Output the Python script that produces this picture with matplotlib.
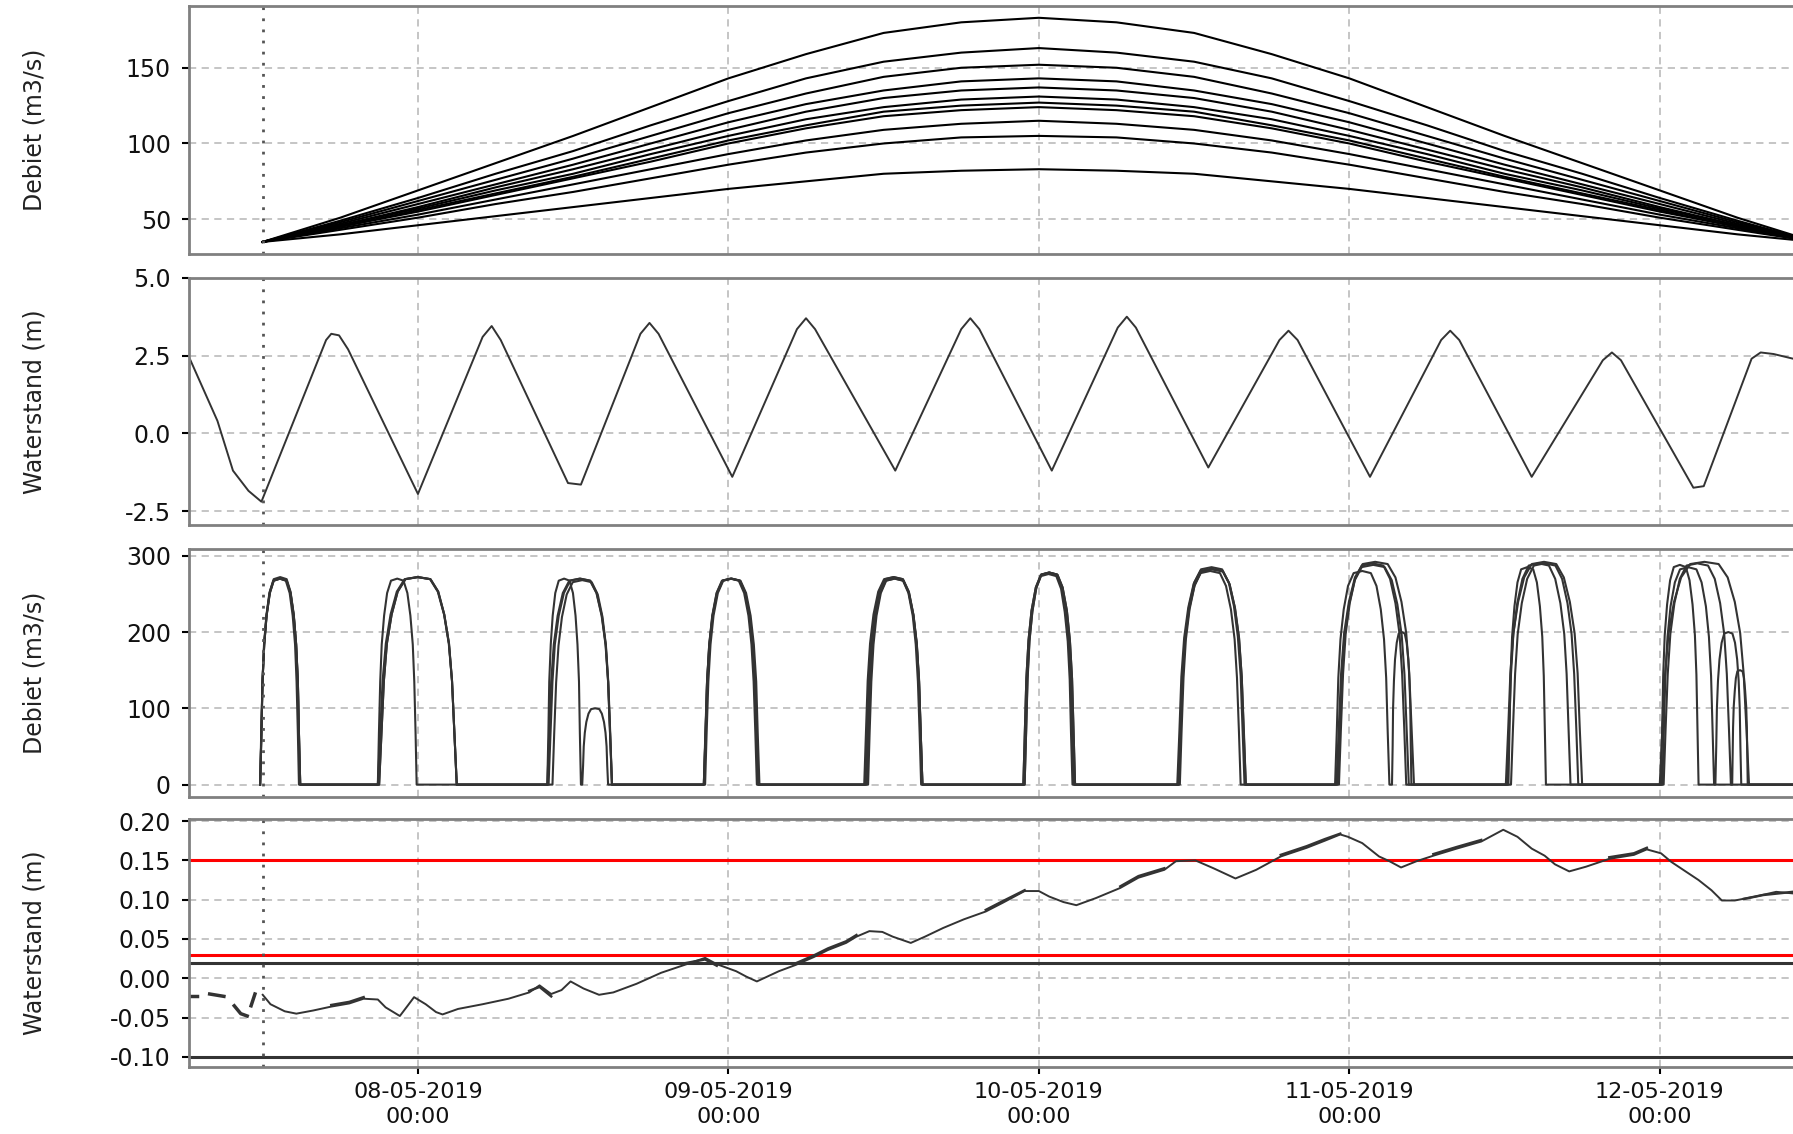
import numpy as np
import matplotlib
matplotlib.use('Agg')
import matplotlib.pyplot as plt
import matplotlib.dates as mdates
from matplotlib.ticker import FormatStrFormatter

plt.rcParams['axes.unicode_minus'] = False
plt.rcParams['font.family'] = 'DejaVu Sans'

# all times in hours after 07-05-2019 00:00
T0 = np.datetime64('2019-05-07T00:00')
NOW_H = 12.0
XLIM_H = (6.3, 130.3)

# --- panel 1: debiet ensemble (m3/s), one row per member, 6-hourly
q_hours = [12, 18, 24, 30, 36, 42, 48, 54, 60, 66, 72,
           78, 84, 90, 96, 102, 108, 114, 120, 126, 132]
q_members = [
    [35, 51, 69, 87, 105, 124, 143, 159, 173, 180, 183, 180, 173, 159, 143, 124, 105, 87, 69, 51, 35],
    [35, 49, 64, 80, 95, 112, 128, 143, 154, 160, 163, 160, 154, 143, 128, 112, 95, 80, 64, 49, 35],
    [35, 48, 62, 76, 90, 105, 120, 133, 144, 150, 152, 150, 144, 133, 120, 105, 90, 76, 62, 48, 35],
    [35, 47, 60, 73, 86, 100, 114, 126, 135, 141, 143, 141, 135, 126, 114, 100, 86, 73, 60, 47, 35],
    [35, 46, 58, 71, 83, 96, 109, 121, 130, 135, 137, 135, 130, 121, 109, 96, 83, 71, 58, 46, 35],
    [35, 46, 57, 69, 80, 93, 105, 116, 124, 129, 131, 129, 124, 116, 105, 93, 80, 69, 57, 46, 35],
    [35, 45, 56, 67, 78, 90, 102, 112, 121, 125, 127, 125, 121, 112, 102, 90, 78, 67, 56, 45, 35],
    [35, 45, 55, 66, 77, 88, 100, 110, 118, 122, 124, 122, 118, 110, 100, 88, 77, 66, 55, 45, 35],
    [35, 44, 53, 63, 73, 83, 93, 102, 109, 113, 115, 113, 109, 102, 93, 83, 73, 63, 53, 44, 35],
    [35, 43, 51, 60, 68, 77, 86, 94, 100, 104, 105, 104, 100, 94, 86, 77, 68, 60, 51, 43, 35],
    [35, 40, 46, 52, 58, 64, 70, 75, 80, 82, 83, 82, 80, 75, 70, 64, 58, 52, 46, 40, 35],
]

# --- panel 2: waterstand buitenwater (m)
tide_hours = [6.2, 8.5, 9.7, 10.9, 11.9,
              16.9, 17.3, 17.9, 18.6,
              24.0,
              29.0, 29.7, 30.4,
              35.6, 36.6,
              41.2, 41.9, 42.6,
              48.3,
              53.3, 54.0, 54.7,
              60.9,
              66.0, 66.7, 67.4,
              73.0,
              78.1, 78.8, 79.5,
              85.1,
              90.6, 91.3, 92.0,
              97.6,
              103.1, 103.8, 104.5,
              110.1,
              115.6, 116.3, 117.0,
              122.6, 123.4,
              127.1, 127.8, 128.8, 130.3]
tide_level = [2.55, 0.4, -1.2, -1.85, -2.2,
              3.0, 3.2, 3.15, 2.7,
              -1.95,
              3.1, 3.45, 3.0,
              -1.6, -1.65,
              3.2, 3.55, 3.2,
              -1.4,
              3.35, 3.7, 3.35,
              -1.2,
              3.35, 3.7, 3.35,
              -1.2,
              3.4, 3.75, 3.4,
              -1.1,
              3.0, 3.3, 3.0,
              -1.4,
              3.0, 3.3, 3.0,
              -1.4,
              2.35, 2.6, 2.35,
              -1.75, -1.7,
              2.4, 2.6, 2.55, 2.4]

# --- panel 3: spuidebiet per member, one (start h, end h, peak) per spui-event
hump_shape_t = [0, 0.03, 0.06, 0.10, 0.16, 0.24, 0.34, 0.5, 0.66, 0.76, 0.84, 0.90, 0.94, 0.97, 1.0]
hump_shape_q = [0, 0.25, 0.5, 0.68, 0.82, 0.93, 0.99, 1.0, 0.99, 0.93, 0.82, 0.68, 0.5, 0.25, 0]
spui_members = [
    [(11.8, 14.9, 272), (20.9, 27.0, 272), (34.0, 39.0, 270), (46.1, 50.4, 270),
     (58.6, 63.0, 272), (70.8, 74.8, 278), (82.7, 88.0, 283), (95.0, 101.0, 292),
     (108.1, 114.0, 292), (120.0, 126.9, 292)],
    [(11.8, 14.8, 270), (20.9, 23.9, 270), (34.0, 36.6, 270), (36.7, 38.7, 100),
     (46.1, 50.2, 270), (58.8, 62.9, 270), (70.9, 74.6, 276), (82.9, 87.6, 280),
     (94.9, 99.1, 280), (99.3, 100.8, 200), (108.3, 111.2, 285), (120.1, 123.0, 288)],
    [(11.8, 14.9, 270), (21.0, 27.0, 272), (34.4, 39.0, 268), (46.2, 50.3, 270),
     (58.5, 63.0, 272), (70.8, 74.8, 278), (82.8, 87.9, 285), (95.1, 100.6, 288),
     (108.2, 113.1, 290), (120.2, 124.2, 285), (124.3, 126.3, 200)],
    [(11.8, 14.9, 270), (21.0, 27.0, 272), (34.1, 39.0, 270), (46.1, 50.3, 270),
     (58.7, 63.0, 270), (70.9, 74.7, 278), (82.8, 88.0, 282), (95.2, 100.4, 290),
     (108.5, 113.7, 290), (120.3, 125.5, 290), (125.6, 126.8, 150)],
]

# --- panel 4: waterstand binnenwater (m)
obs_segments_h = [[6.3, 6.9], [7.9, 9.0], [9.8, 10.3, 10.8], [11.1, 11.4]]
obs_segments_v = [[-0.022, -0.022], [-0.020, -0.023], [-0.035, -0.045, -0.048], [-0.035, -0.020]]

wl_hours = [12.0, 12.6, 13.7, 14.6, 15.9, 17.3, 18.7, 19.8, 20.9, 21.5, 22.6, 23.2,
            23.7, 24.6, 25.4, 25.9, 27.1, 29.0, 31.0, 32.6, 33.4, 34.3, 35.1, 35.8,
            36.8, 38.0, 39.1, 40.9, 42.8, 44.6, 46.2, 47.1, 48.6, 49.4, 50.2, 51.9,
            53.2, 54.6, 55.7, 57.1, 57.9, 58.9, 59.9, 60.7, 62.1, 63.2, 64.6, 66.2,
            67.9, 69.2, 70.9, 72.0, 72.8, 73.9, 74.9, 76.4, 78.3, 79.7, 81.7, 82.6,
            84.1, 85.5, 87.2, 88.8, 90.7, 92.7, 94.1, 95.3, 95.9, 97.0, 98.3, 99.1,
            100.0, 101.2, 102.5, 104.3, 106.2, 107.9, 109.0, 110.1, 111.1, 111.9, 113.0,
            114.3, 116.1, 118.0, 119.0, 120.1, 120.9, 123.0, 124.0, 124.8, 125.8, 127.4,
            129.0, 130.3]
wl_level = [-0.021, -0.033, -0.042, -0.045, -0.041, -0.036, -0.032, -0.026, -0.027, -0.037, -0.048, -0.035,
            -0.024, -0.033, -0.043, -0.046, -0.039, -0.033, -0.026, -0.018, -0.009, -0.020, -0.015, -0.004,
            -0.013, -0.021, -0.018, -0.007, 0.007, 0.017, 0.026, 0.018, 0.009, 0.002, -0.004, 0.009,
            0.017, 0.027, 0.036, 0.045, 0.053, 0.060, 0.059, 0.053, 0.045, 0.053, 0.064, 0.075,
            0.085, 0.096, 0.111, 0.111, 0.104, 0.097, 0.093, 0.102, 0.115, 0.128, 0.138, 0.149,
            0.150, 0.140, 0.127, 0.138, 0.155, 0.166, 0.175, 0.183, 0.180, 0.172, 0.155, 0.149,
            0.141, 0.149, 0.156, 0.165, 0.174, 0.189, 0.180, 0.165, 0.156, 0.145, 0.136,
            0.142, 0.152, 0.157, 0.164, 0.159, 0.148, 0.125, 0.112, 0.099, 0.099, 0.104,
            0.110, 0.108]
# other ensemble members, only where they split off from the main line
wl_spread_h = [[17.3, 18.7, 19.8], [32.6, 33.4, 34.3], [44.6, 46.2, 47.1],
               [53.2, 54.6, 55.7, 57.1, 57.9], [67.9, 69.2, 70.9], [78.3, 79.7, 81.7],
               [90.7, 92.7, 94.1, 95.3], [102.5, 104.3, 106.2], [116.1, 118.0, 119.0],
               [126.5, 128.0, 130.3]]
wl_spread_v = [[-0.034, -0.030, -0.024], [-0.016, -0.011, -0.023], [0.019, 0.024, 0.016],
               [0.019, 0.029, 0.038, 0.047, 0.055], [0.087, 0.098, 0.112], [0.117, 0.130, 0.140],
               [0.157, 0.168, 0.177, 0.184], [0.158, 0.167, 0.176], [0.154, 0.159, 0.166],
               [0.101, 0.106, 0.110]]
red_levels = [0.15, 0.03]
black_levels = [0.02, -0.10]


def to_time(hours):
    return T0 + (np.asarray(hours, dtype=float) * 60).round().astype('int64').astype('timedelta64[m]')


fig = plt.figure(figsize=(17.93, 11.34), dpi=100)
left, width = 0.1054, 0.8946
ax1 = fig.add_axes([left, 0.776, width, 0.219])
ax2 = fig.add_axes([left, 0.537, width, 0.218], sharex=ax1)
ax3 = fig.add_axes([left, 0.297, width, 0.219], sharex=ax1)
ax4 = fig.add_axes([left, 0.059, width, 0.219], sharex=ax1)

line_col = '#333333'

for m in q_members:
    ax1.plot(to_time(q_hours), m, color='black', lw=1.5)

ax2.plot(to_time(tide_hours), tide_level, color=line_col, lw=1.4)

for member in spui_members:
    hh = [6.0, 11.8]
    qq = [np.nan, 0.0]
    for s, e, p in member:
        hh += [s + f * (e - s) for f in hump_shape_t]
        qq += [p * f for f in hump_shape_q]
    hh.append(131.0)
    qq.append(0.0)
    ax3.plot(to_time(hh), qq, color=line_col, lw=1.5)

for lv in black_levels:
    ax4.axhline(lv, color=line_col, lw=2.2)
for lv in red_levels:
    ax4.axhline(lv, color='#ff0000', lw=2.2)
for sh, sv in zip(obs_segments_h, obs_segments_v):
    ax4.plot(to_time(sh), sv, color=line_col, lw=2.5)
for sh, sv in zip(wl_spread_h, wl_spread_v):
    ax4.plot(to_time(sh), sv, color=line_col, lw=1.8)
ax4.plot(to_time(wl_hours), wl_level, color=line_col, lw=1.4)

specs = [
    (ax1, (27, 191), [50, 100, 150], 'Debiet (m3/s)', '%d'),
    (ax2, (-2.95, 5.0), [-2.5, 0.0, 2.5, 5.0], 'Waterstand (m)', '%.1f'),
    (ax3, (-16.5, 309), [0, 100, 200, 300], 'Debiet (m3/s)', '%d'),
    (ax4, (-0.113, 0.203), [-0.10, -0.05, 0.0, 0.05, 0.10, 0.15, 0.20], 'Waterstand (m)', '%.2f'),
]
for ax, yl, yt, lab, fmt in specs:
    ax.set_ylim(*yl)
    ax.set_yticks(yt)
    ax.yaxis.set_major_formatter(FormatStrFormatter(fmt))
    ax.grid(True, color='#c0c0c0', linestyle=(0, (4, 3)), linewidth=1.3)
    ax.set_axisbelow(True)
    for s in ['top', 'bottom', 'left']:
        ax.spines[s].set_color('#808080')
        ax.spines[s].set_linewidth(2)
    ax.spines['right'].set_visible(False)
    ax.tick_params(axis='y', length=5, width=1.5, color='black', labelsize=17, pad=8, labelcolor='#111111')
    ax.set_ylabel(lab, fontsize=17, color='#222222', va='center')
    ax.yaxis.set_label_coords(-0.0966, 0.5)
    ax.axvline(to_time([NOW_H])[0], color='#555555', linestyle=(0, (1, 3)), lw=2)

ax1.set_xlim(to_time([XLIM_H[0]])[0], to_time([XLIM_H[1]])[0])
ax4.xaxis.set_major_locator(mdates.DayLocator())
ax4.xaxis.set_major_formatter(mdates.DateFormatter('%d-%m-%Y\n%H:%M'))
for ax in (ax1, ax2, ax3):
    ax.tick_params(axis='x', length=0, labelbottom=False)
ax4.tick_params(axis='x', length=5, width=1.5, color='black', labelsize=16, pad=6, labelcolor='#111111')
for lbl in ax4.get_xticklabels():
    lbl.set_linespacing(1.3)

fig.savefig('out.png', dpi=100)
